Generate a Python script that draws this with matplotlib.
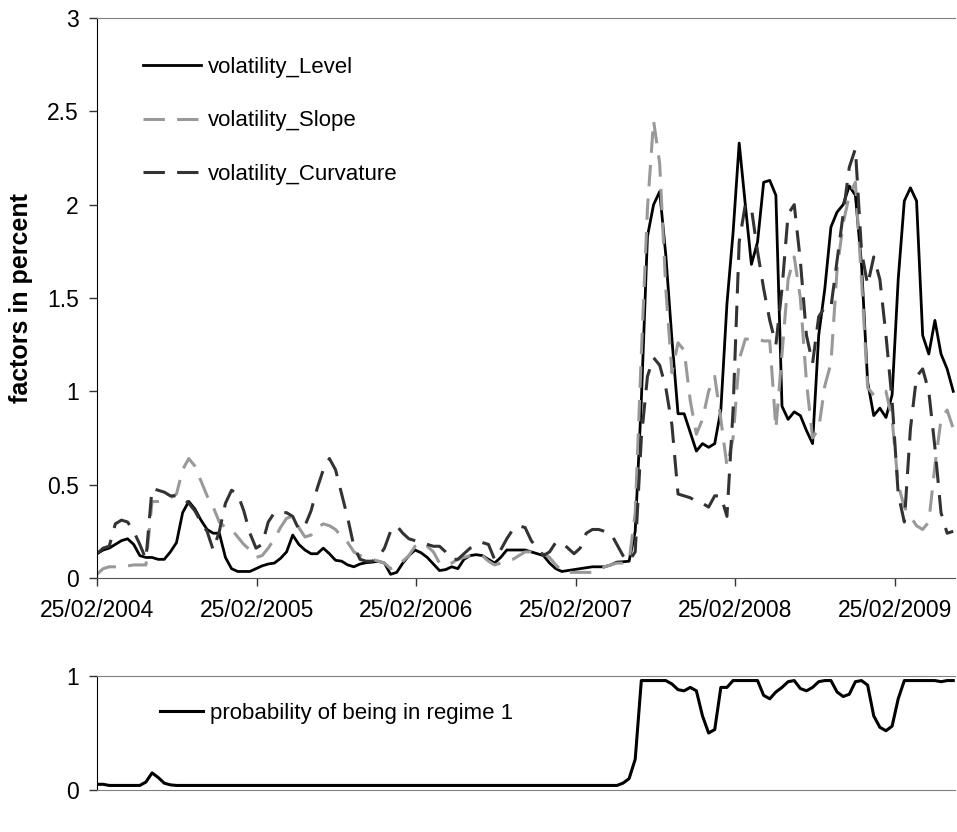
import numpy as np
import pandas as pd
import matplotlib
matplotlib.use("Agg")
import matplotlib.pyplot as plt
from matplotlib.ticker import FuncFormatter

plt.rcParams['font.family'] = ['Liberation Sans', 'DejaVu Sans']

# biweekly observations starting 25/02/2004
start = '2004-02-25'

level = [
    0.13, 0.15, 0.16, 0.18, 0.20, 0.21, 0.18, 0.12, 0.11, 0.11,
    0.10, 0.10, 0.14, 0.19, 0.35, 0.41, 0.37, 0.31, 0.26, 0.24,
    0.24, 0.11, 0.05, 0.035, 0.035, 0.035, 0.05, 0.065, 0.075, 0.08,
    0.105, 0.14, 0.23, 0.18, 0.15, 0.13, 0.13, 0.16, 0.13, 0.095,
    0.09, 0.07, 0.06, 0.075, 0.082, 0.085, 0.09, 0.08, 0.02, 0.03,
    0.08, 0.12, 0.15, 0.135, 0.11, 0.075, 0.04, 0.045, 0.06, 0.05,
    0.10, 0.12, 0.125, 0.12, 0.10, 0.08, 0.11, 0.15, 0.15, 0.15,
    0.15, 0.14, 0.13, 0.12, 0.08, 0.05, 0.035, 0.04, 0.045, 0.05,
    0.055, 0.06, 0.06, 0.06, 0.07, 0.085, 0.087, 0.09, 0.25, 0.95,
    1.83, 2.00, 2.07, 1.73, 1.28, 0.88, 0.88, 0.78, 0.68, 0.72,
    0.70, 0.72, 0.90, 1.47, 1.85, 2.33, 2.00, 1.68, 1.80, 2.12,
    2.13, 2.05, 0.92, 0.85, 0.89, 0.87, 0.79, 0.72, 1.30, 1.55,
    1.88, 1.96, 2.00, 2.10, 2.05, 1.68, 1.05, 0.87, 0.91, 0.86,
    0.98, 1.60, 2.02, 2.09, 2.02, 1.30, 1.20, 1.38, 1.20, 1.12,
    1.00,
]

slope = [
    0.02, 0.05, 0.06, 0.06, 0.065, 0.065, 0.07, 0.07, 0.07, 0.41,
    0.41, 0.42, 0.43, 0.45, 0.58, 0.64, 0.60, 0.52, 0.44, 0.38,
    0.30, 0.27, 0.26, 0.22, 0.18, 0.15, 0.11, 0.12, 0.16, 0.21,
    0.27, 0.32, 0.33, 0.27, 0.22, 0.23, 0.27, 0.29, 0.28, 0.26,
    0.22, 0.19, 0.14, 0.12, 0.11, 0.10, 0.09, 0.08, 0.05, 0.06,
    0.09, 0.12, 0.17, 0.19, 0.17, 0.14, 0.08, 0.07, 0.08, 0.10,
    0.11, 0.12, 0.12, 0.12, 0.09, 0.07, 0.08, 0.09, 0.10, 0.12,
    0.14, 0.14, 0.13, 0.13, 0.11, 0.07, 0.04, 0.03, 0.03, 0.03,
    0.03, 0.03, 0.04, 0.06, 0.07, 0.08, 0.08, 0.09, 0.35, 1.20,
    1.98, 2.45, 2.22, 1.55, 1.10, 1.26, 1.22, 0.95, 0.77, 0.85,
    1.00, 1.08, 0.85, 0.60, 0.75, 1.17, 1.28, 1.28, 1.28, 1.27,
    1.27, 0.80, 1.20, 1.60, 1.72, 1.50, 1.05, 0.75, 0.80, 1.03,
    1.15, 1.65, 1.90, 2.05, 2.12, 1.60, 1.02, 0.98, 1.00, 1.00,
    0.85, 0.50, 0.38, 0.33, 0.28, 0.26, 0.30, 0.60, 0.85, 0.90,
    0.80,
]

curvature = [
    0.13, 0.16, 0.17, 0.29, 0.31, 0.30, 0.25, 0.18, 0.10, 0.48,
    0.47, 0.46, 0.44, 0.44, 0.43, 0.40, 0.36, 0.30, 0.25, 0.15,
    0.25, 0.40, 0.47, 0.45, 0.36, 0.24, 0.16, 0.18, 0.30, 0.35,
    0.35, 0.35, 0.33, 0.26, 0.28, 0.36, 0.48, 0.58, 0.64, 0.58,
    0.45, 0.32, 0.17, 0.10, 0.09, 0.09, 0.11, 0.16, 0.25, 0.28,
    0.24, 0.21, 0.20, 0.19, 0.18, 0.17, 0.17, 0.14, 0.10, 0.10,
    0.13, 0.16, 0.17, 0.19, 0.18, 0.10, 0.15, 0.21, 0.26, 0.28,
    0.27, 0.20, 0.16, 0.12, 0.14, 0.19, 0.19, 0.16, 0.13, 0.16,
    0.24, 0.26, 0.26, 0.25, 0.24, 0.18, 0.12, 0.09, 0.14, 0.75,
    1.08, 1.18, 1.14, 1.02, 0.82, 0.45, 0.44, 0.43, 0.41, 0.40,
    0.38, 0.44, 0.44, 0.33, 0.90, 1.80, 2.00, 1.98, 1.75, 1.55,
    1.38, 1.25, 1.55, 1.95, 2.00, 1.70, 1.30, 1.15, 1.40, 1.45,
    1.45, 1.70, 1.95, 2.20, 2.30, 1.75, 1.57, 1.72, 1.60, 1.30,
    0.95, 0.45, 0.30, 0.80, 1.08, 1.12, 1.00, 0.70, 0.35, 0.24,
    0.25,
]

prob_regime1 = [
    0.05, 0.05, 0.04, 0.04, 0.04, 0.04, 0.04, 0.04, 0.07, 0.15,
    0.11, 0.06, 0.045, 0.04, 0.04, 0.04, 0.04, 0.04, 0.04, 0.04,
    0.04, 0.04, 0.04, 0.04, 0.04, 0.04, 0.04, 0.04, 0.04, 0.04,
    0.04, 0.04, 0.04, 0.04, 0.04, 0.04, 0.04, 0.04, 0.04, 0.04,
    0.04, 0.04, 0.04, 0.04, 0.04, 0.04, 0.04, 0.04, 0.04, 0.04,
    0.04, 0.04, 0.04, 0.04, 0.04, 0.04, 0.04, 0.04, 0.04, 0.04,
    0.04, 0.04, 0.04, 0.04, 0.04, 0.04, 0.04, 0.04, 0.04, 0.04,
    0.04, 0.04, 0.04, 0.04, 0.04, 0.04, 0.04, 0.04, 0.04, 0.04,
    0.04, 0.04, 0.04, 0.04, 0.04, 0.04, 0.06, 0.10, 0.27, 0.96,
    0.96, 0.96, 0.96, 0.96, 0.93, 0.88, 0.87, 0.90, 0.87, 0.65,
    0.50, 0.53, 0.90, 0.90, 0.96, 0.96, 0.96, 0.96, 0.96, 0.83,
    0.80, 0.86, 0.90, 0.95, 0.96, 0.89, 0.87, 0.90, 0.95, 0.96,
    0.96, 0.86, 0.82, 0.84, 0.95, 0.96, 0.92, 0.65, 0.55, 0.52,
    0.56, 0.80, 0.96, 0.96, 0.96, 0.96, 0.96, 0.96, 0.95, 0.96,
    0.96,
]

tick_dates = ['2004-02-25', '2005-02-25', '2006-02-25',
              '2007-02-25', '2008-02-25', '2009-02-25']
tick_labels = ['25/02/2004', '25/02/2005', '25/02/2006',
               '25/02/2007', '25/02/2008', '25/02/2009']

dates = pd.date_range(start, periods=len(level), freq='14D')
x_end = pd.Timestamp('2009-07-12')

fig = plt.figure(figsize=(9.57, 8.32), dpi=100)
ax = fig.add_axes([97 / 957, 1 - 578 / 832, 858 / 957, 560 / 832])
ax2 = fig.add_axes([97 / 957, 1 - 790 / 832, 858 / 957, 114 / 832])

# --- top panel: volatilities
ax.plot(dates, level, color='black', lw=2.0, label='volatility_Level')
ax.plot(dates, slope, color='#999999', lw=2.2, dashes=(7, 4),
        label='volatility_Slope')
ax.plot(dates, curvature, color='#333333', lw=2.2, dashes=(7, 4),
        label='volatility_Curvature')

ax.set_xlim(pd.Timestamp(start), x_end)
ax.set_ylim(0, 3)
ax.set_yticks([0, 0.5, 1, 1.5, 2, 2.5, 3])
ax.yaxis.set_major_formatter(FuncFormatter(lambda v, p: f'{v:g}'))
ax.set_xticks(pd.to_datetime(tick_dates))
ax.set_xticklabels(tick_labels)
ax.tick_params(axis='both', labelsize=16.5, length=6, width=1, color='#333333')
ax.tick_params(axis='x', pad=9)
ax.tick_params(axis='y', pad=7)
ax.set_ylabel('factors in percent', fontsize=18, fontweight='bold', labelpad=10)

ax.spines['right'].set_visible(False)
ax.spines['top'].set_color('#808080')
ax.spines['bottom'].set_color('#555555')
ax.spines['left'].set_color('black')

ax.legend(loc='upper left', bbox_to_anchor=(0.0536, 0.93), frameon=False,
          fontsize=16, handlelength=2.6, handletextpad=0.3,
          labelspacing=1.45, borderpad=0, borderaxespad=0)

# --- bottom panel: regime probability
ax2.plot(dates, prob_regime1, color='black', lw=2.2,
         label='probability of being in regime 1')
ax2.set_xlim(pd.Timestamp(start), x_end)
ax2.set_ylim(0, 1)
ax2.set_yticks([0, 1])
ax2.set_xticks([])
ax2.tick_params(axis='y', labelsize=16.5, length=6, width=1, color='#333333',
                pad=7)
ax2.spines['right'].set_visible(False)
ax2.spines['top'].set_color('#808080')
ax2.spines['bottom'].set_color('#808080')
ax2.legend(loc='center left', bbox_to_anchor=(0.073, 0.67), frameon=False,
           fontsize=16, handlelength=1.95, handletextpad=0.3,
           borderpad=0, borderaxespad=0)

fig.savefig('out.png', dpi=100)
